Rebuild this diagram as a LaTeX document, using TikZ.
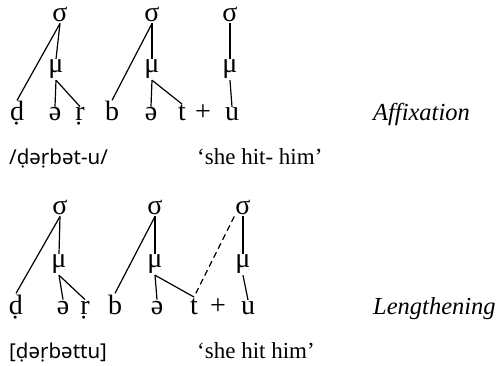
\documentclass[tikz,border=0pt]{standalone}
\usepackage{fontspec}
\setmainfont{Liberation Serif}
\newfontfamily\ipafont{Noto Sans}
\tikzset{
  seg/.style={font=\fontsize{28}{28}\selectfont, inner sep=1pt, anchor=base},
  lab/.style={font=\fontsize{23}{23}\selectfont, inner sep=0pt, anchor=base west},
  ital/.style={font=\fontsize{24.5}{24.5}\selectfont\itshape, inner sep=0pt, anchor=base west},
  ipa/.style={font=\ipafont\fontsize{20.5}{20.5}\selectfont, inner sep=0pt, anchor=base west},
  ln/.style={line width=1.2pt},
}
\begin{document}
\begin{tikzpicture}[x=1pt,y=-1pt]
\useasboundingbox (0,0) rectangle (501,366);
% ---------- top row ----------
\node[seg] (s1) at (60,22) {σ};
\node[seg] (m1) at (56,73) {μ};
\node[seg] (d1) at (17,121) {ḍ};
\node[seg] (e1) at (55,121) {ə};
\node[seg] (r1) at (80,121) {ṛ};
\node[seg] (s2) at (152,22) {σ};
\node[seg] (m2) at (152,73) {μ};
\node[seg] (b1) at (112,121) {b};
\node[seg] (e2) at (151,121) {ə};
\node[seg] (t1) at (182,121) {t};
\node[seg] (p1) at (203,121) {+};
\node[seg] (s3) at (230,22) {σ};
\node[seg] (m3) at (230,73) {μ};
\node[seg] (u1) at (232,121) {u};
\node[ital] (aff) at (373,121) {Affixation};
\draw[ln] (s1.south) -- (d1.north);
\draw[ln] (s1.south) -- (m1.north);
\draw[ln] (m1.south) -- (e1.north);
\draw[ln] (m1.south) -- (r1.north);
\draw[ln] (s2.south) -- (b1.north);
\draw[ln] (s2.south) -- (m2.north);
\draw[ln] (m2.south) -- (e2.north);
\draw[ln] (m2.south) -- (t1.north);
\draw[ln] (s3.south) -- (m3.north);
\draw[ln] (m3.south) -- (u1.north);
\node[ipa] (tr1) at (9,165) {/ḍəṛbə\textbf{t-u}/};
\node[lab] (gl1) at (197,165) {‘she hit- him’};
% ---------- bottom row ----------
\node[seg] (S1) at (60,215) {σ};
\node[seg] (M1) at (59,268) {μ};
\node[seg] (D1) at (16,314) {ḍ};
\node[seg] (E1) at (63,314) {ə};
\node[seg] (R1) at (85,314) {ṛ};
\node[seg] (S2) at (155,215) {σ};
\node[seg] (M2) at (155,268) {μ};
\node[seg] (B1) at (115,314) {b};
\node[seg] (E2) at (157,314) {ə};
\node[seg] (T1) at (194,314) {t};
\node[seg] (P1) at (218,314) {+};
\node[seg] (S3) at (243,215) {σ};
\node[seg] (M3) at (243,268) {μ};
\node[seg] (U1) at (248,314) {u};
\node[ital] (len) at (373,314) {Lengthening};
\draw[ln] (S1.south) -- (D1.north);
\draw[ln] (S1.south) -- (M1.north);
\draw[ln] (M1.south) -- (E1.north);
\draw[ln] (M1.south) -- (R1.north);
\draw[ln] (S2.south) -- (B1.north);
\draw[ln] (S2.south) -- (M2.north);
\draw[ln] (M2.south) -- (E2.north);
\draw[ln] (M2.south) -- (T1.north);
\draw[ln, dash pattern=on 6pt off 4pt] (S3.south west) -- (T1.north);
\draw[ln] (S3.south) -- (M3.north);
\draw[ln] (M3.south) -- (U1.north);
\node[ipa] (tr2) at (9,358) {[ḍəṛbə\textbf{ttu}]};
\node[lab] (gl2) at (197,358) {‘she hit him’};
\end{tikzpicture}
\end{document}
